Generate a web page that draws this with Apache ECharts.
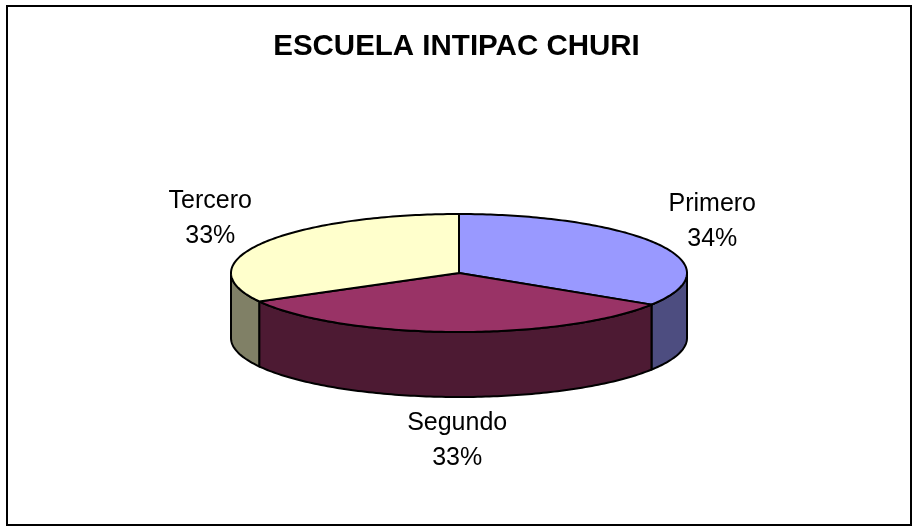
<!DOCTYPE html>
<html>
<head>
<meta charset="utf-8">
<title>ESCUELA INTIPAC CHURI</title>
<script src="https://cdn.jsdelivr.net/npm/echarts@6/dist/echarts.min.js"></script>
<style>
  html, body { margin: 0; padding: 0; background: #fff; }
  #chart { width: 913px; height: 527px; }
</style>
</head>
<body>
<div id="chart"></div>
<script>
// datos del grafico
var titleText = 'ESCUELA INTIPAC CHURI';
var categories = ['Primero', 'Segundo', 'Tercero'];
var values = [34, 33, 33];
var topColors = ['#9999FF', '#993366', '#FFFFCC'];
var sideColors = ['#4D4D80', '#4D1A33', '#808066'];

// geometria de la torta 3D
var cx = 459, cy = 273, rx = 228, ry = 59, depth = 65;

var total = values.reduce(function (a, b) { return a + b; }, 0);
var startAngles = [];
var acc = 0;
values.forEach(function (v) {
  startAngles.push(acc / total * 360);
  acc += v;
});

function pt(deg, dy) {
  var r = deg * Math.PI / 180;
  return [cx + rx * Math.sin(r), cy - ry * Math.cos(r) + (dy || 0)];
}

function arc(a0, a1, dy) {
  var pts = [];
  var n = Math.max(2, Math.ceil(Math.abs(a1 - a0)));
  for (var i = 0; i <= n; i++) {
    pts.push(pt(a0 + (a1 - a0) * i / n, dy));
  }
  return pts;
}

function renderItem(params, api) {
  var idx = params.dataIndex;
  var v = api.value(0);
  var a0 = startAngles[idx];
  var a1 = a0 + v / total * 360;
  var children = [];

  // pared lateral visible (mitad delantera: 90..270)
  var s0 = Math.max(a0, 90), s1 = Math.min(a1, 270);
  if (s1 > s0) {
    var side = arc(s0, s1, 0).concat(arc(s1, s0, depth));
    children.push({
      type: 'polygon',
      shape: { points: side },
      style: { fill: sideColors[idx], stroke: '#000', lineWidth: 2 }
    });
  }

  // cara superior
  var topPts = [[cx, cy]].concat(arc(a0, a1, 0));
  children.push({
    type: 'polygon',
    shape: { points: topPts },
    style: { fill: topColors[idx], stroke: '#000', lineWidth: 2 }
  });

  // etiqueta
  var mid = (a0 + a1) / 2 * Math.PI / 180;
  var front = Math.cos(mid) < 0;
  var lx = cx + (front ? 0.2 : 1) * 289 * Math.sin(mid);
  var ly = cy - (front ? 103 : 106) * Math.cos(mid) + (front ? depth : 0);
  children.push({
    type: 'text',
    x: lx,
    y: ly,
    style: {
      text: categories[idx] + '\n' + Math.round(v / total * 100) + '%',
      fill: '#000',
      font: '25px "Liberation Sans", Arial, sans-serif',
      lineHeight: 35,
      align: 'center',
      verticalAlign: 'middle'
    }
  });

  return { type: 'group', children: children };
}

var chart = echarts.init(document.getElementById('chart'));
var option = {
  backgroundColor: '#fff',
  animation: false,
  title: {
    text: titleText,
    left: 'center',
    top: 27,
    textStyle: {
      fontFamily: '"Liberation Sans", Arial, sans-serif',
      fontSize: 29.5,
      fontWeight: 'bold',
      color: '#000'
    }
  },
  graphic: [{
    type: 'rect',
    shape: { x: 7, y: 6, width: 904, height: 519 },
    style: { fill: 'none', stroke: '#000', lineWidth: 2 },
    z: 10
  }],
  series: [{
    type: 'custom',
    coordinateSystem: 'none',
    renderItem: renderItem,
    data: values.map(function (v, i) { return { name: categories[i], value: [v] }; })
  }]
};
chart.setOption(option);
</script>
</body>
</html>
